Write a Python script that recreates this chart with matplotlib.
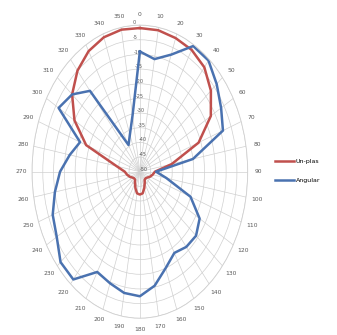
import numpy as np
import matplotlib.pyplot as plt

# angles in degrees, clockwise from north
angles = list(range(0, 360, 10))

# pattern levels (dB)
unplas = [-1, -1, -1.5, -2, -3.5, -7, -12, -21, -35, -43,
          -44, -45, -46, -46.5, -46.5, -45.5, -44, -42.5, -42.2, -42.5,
          -44, -45.5, -46.5, -46.5, -46, -45, -44, -43, -39, -23.5,
          -15, -9, -5, -2.5, -1.2, -0.8]
angular = [-9, -11, -7.5, -0.5, -0.5, -3.5, -6.5, -9, -25, -42.5,
           -37.5, -25, -18, -16, -16.5, -18, -15, -10.5, -7.5, -8,
           -9.5, -10.5, -2, -2, -5.5, -7, -10, -13, -17, -20.5,
           -6.5, -9, -14, -39.5, -36.5, -30.5]

r_ticks = [-50, -45, -40, -35, -30, -25, -20, -15, -10, -5, 0]
series_names = ['Un-plas', 'Angular']


def closed(vals):
    return np.append(vals, vals[0])


theta = np.deg2rad(closed(angles))

fig = plt.figure(figsize=(3.37, 3.35), dpi=100)
ax = fig.add_axes([0.095, 0.05, 0.64, 0.875], projection='polar')
ax.set_aspect('auto')
ax.set_theta_zero_location('N')
ax.set_theta_direction(-1)
ax.set_ylim(-50, 0)

grid_col = '#d0d0d0'
ax.set_xticks(np.deg2rad(angles))
ax.set_xticklabels([str(a) for a in angles], fontsize=4.3, color='#595959')
ax.tick_params(axis='x', pad=-2.5)
ax.set_yticks(r_ticks)
ax.set_yticklabels([str(t) for t in r_ticks], fontsize=3.5, color='#595959')
ax.set_rlabel_position(-4)
ax.grid(True, color=grid_col, linewidth=0.5)
ax.spines['polar'].set_color(grid_col)
ax.spines['polar'].set_linewidth(0.6)

ax.plot(theta, closed(unplas), color='#c0504d', linewidth=1.8, label=series_names[0])
ax.plot(theta, closed(angular), color='#4a72b0', linewidth=1.8, label=series_names[1])

fig.legend(loc='center left', bbox_to_anchor=(0.80, 0.49), frameon=False,
           fontsize=4.5, handlelength=3, labelspacing=2.2, handletextpad=0.3)

fig.savefig('out.png', dpi=100)
